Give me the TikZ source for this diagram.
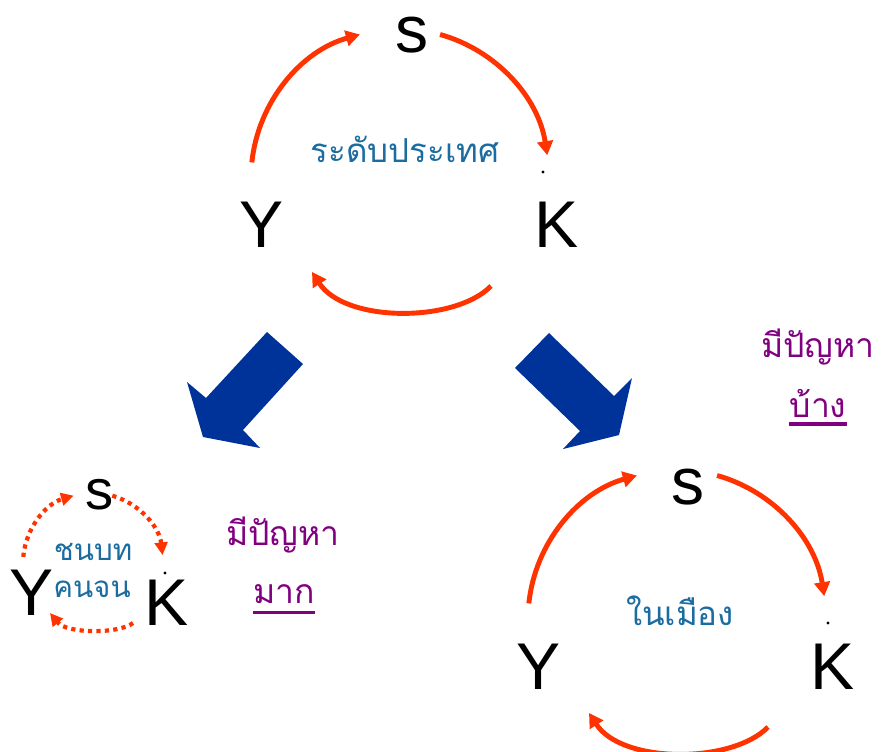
\documentclass[tikz,border=0pt]{standalone}
\usepackage{fontspec}
\setmainfont{Liberation Sans}
\newfontfamily\thaifont[Script=Thai]{Loma}
\usetikzlibrary{arrows.meta}

\definecolor{cycred}{RGB}{255,51,0}
\definecolor{arrblue}{RGB}{0,51,153}
\definecolor{lvlblue}{RGB}{27,108,160}
\definecolor{probpurple}{RGB}{128,0,128}

\tikzset{
  var/.style={font=\fontsize{47}{47}\selectfont},
  smallvar/.style={font=\fontsize{40}{40}\selectfont},
  lvl/.style={anchor=base, text=lvlblue, font=\thaifont\fontsize{23.5}{23.5}\selectfont},
  smalllvl/.style={anchor=base, text=lvlblue, font=\thaifont\fontsize{21}{21}\selectfont},
  prob/.style={anchor=base, text=probpurple, font=\thaifont\fontsize{24}{24}\selectfont},
  uline/.style={draw=probpurple, line width=2.2pt},
  cyc/.style={draw=cycred, line width=3.5pt, -{Triangle[length=10pt,width=11pt]}},
  dotcyc/.style={draw=cycred, line width=3pt, dash pattern=on 3pt off 3pt,
    -{Triangle[length=9pt,width=9pt]}},
}

\begin{document}
\begin{tikzpicture}[x=0.025cm, y=0.025cm, every node/.style={inner sep=0pt}]
\useasboundingbox (0,0) rectangle (885,751);

% big arrows down to the two cases
\fill[arrblue] (267,419) -- (303,387) -- (243,321) -- (260,303) -- (203,314)
  -- (187,369) -- (206,353) -- cycle;
\fill[arrblue] (549,418) -- (515,383) -- (580,320) -- (563,302) -- (619,316)
  -- (632,373) -- (614,355) -- cycle;

% country level
\node[var] (s1) at (412,716) {s};
\node[var] (y1) at (262,526) {Y};
\node[var] (k1) at (557,526) {K};
\node[lvl] (l1) at (405,588) {ระดับประเทศ};
\fill (543,579) circle[radius=1.6];
\coordinate (o1) at (400,573);
\draw[cyc] (o1) ++(174:149) arc[start angle=174, end angle=105.6, radius=149];
\draw[cyc] (o1) ++(74.4:149) arc[start angle=74.4, end angle=8.8, radius=149];
\draw[cyc] (491,465) .. controls (455,428) and (345,428) .. (312,479);

% rural poor
\node[smallvar] (s3) at (100,256) {s};
\node[var] (y3) at (32,158) {Y};
\node[var] (k3) at (167,148) {K};
\node[smalllvl] (l3a) at (93,191) {ชนบท};
\node[smalllvl] (l3b) at (92,154) {คนจน};
\fill (165,178) circle[radius=1.6];
\coordinate (o3) at (93,188);
\draw[dotcyc] (o3) ++(175:70) arc[start angle=175, end angle=106, radius=70];
\draw[dotcyc] (o3) ++(74:70) arc[start angle=74, end angle=6.5, radius=70];
\draw[dotcyc] (133,128) .. controls (119,117) and (67,117) .. (50,138);

\node[prob] (p3) at (283,206) {มีปัญหา};
\node[prob] (m3) at (284,148) {มาก};
\draw[uline] ([yshift=-7pt]m3.base west) -- ([yshift=-7pt]m3.base east);

% urban
\node[var] (s2) at (688,264) {s};
\node[var] (y2) at (539,84) {Y};
\node[var] (k2) at (833,84) {K};
\node[lvl] (l2) at (680,126) {ในเมือง};
\fill (828,128) circle[radius=1.6];
\coordinate (o2) at (677,132);
\draw[cyc] (o2) ++(174:149) arc[start angle=174, end angle=105.6, radius=149];
\draw[cyc] (o2) ++(74.4:149) arc[start angle=74.4, end angle=8.8, radius=149];
\draw[cyc] (768,24) .. controls (732,-13) and (622,-13) .. (589,38);

\node[prob] (p2) at (818,394) {มีปัญหา};
\node[prob] (m2) at (818,334) {บ้าง};
\draw[uline] ([yshift=-5pt]m2.base west) -- ([yshift=-5pt]m2.base east);

\end{tikzpicture}
\end{document}
